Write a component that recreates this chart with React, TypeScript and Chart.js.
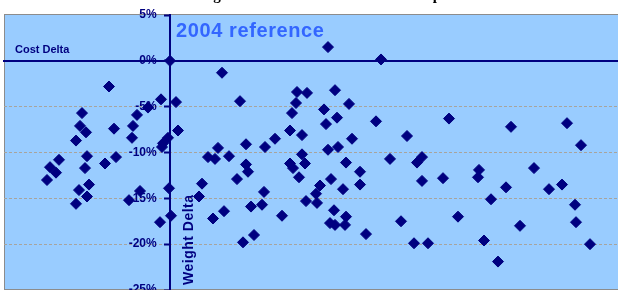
import React, { useEffect, useRef } from "react";
import { Chart, registerables } from "chart.js";
Chart.register(...registerables);

// Weight delta (x, arbitrary % units) and cost delta (y, %) for each design
const weightDelta = [
  0, 5.2, -6.1, -0.9, 0.6, -2.2, -3.3, -8.8, 7.0, -3.7, -9.0, -8.4, -5.6, 0.8,
  -9.4, -3.8, -0.2, -0.7, -0.8, -8.3, -5.4, -6.5, -11.1, -12.0, -11.4, -12.3,
  -8.5, -8.1, -9.1, -8.3, -9.4, -4.1, -3.0, -0.1, 0.1, -1.0, 7.6, 4.8, 3.8, 4.5,
  5.9, 7.6, 7.8, 6.7, 3.2, 2.9, 4.3, 5.4, 7.3, 8.4, 8.1, 9.2, 9.4, 9.5, 10.5,
  11.2, 12.0, 12.2, 13.2, 12.6, 12.7, 13.7, 12.0, 12.3, 12.9, 13.2, 13.5, 13.6,
  15.8, 21.1, 16.5, 15.4, 17.9, 16.7, 15.6, 20.6, 27.9, 34.1, 39.7, 41.1, 23.7,
  18.2, 15.8, 16.8, 17.6, 22.0, 25.2, 24.7, 19.0, 16.1, 19.0, 17.3, 15.0, 14.6,
  25.2, 27.3, 30.9, 30.8, 33.6, 36.4, 37.9, 39.2, 32.1, 14.7, 16.4, 17.6, 16.0,
  16.5, 17.5, 19.6, 23.1, 28.8, 35.0, 40.5, 40.6, 24.4, 25.8, 31.4, 32.8, 42.0,
];
const costDelta = [
  0, -1.3, -2.8, -4.2, -4.5, -5.1, -5.9, -5.7, -4.4, -7.1, -7.1, -7.8, -7.4, -7.6,
  -8.7, -8.4, -8.4, -9.0, -9.4, -10.4, -10.5, -11.2, -10.8, -11.6, -12.2, -13.0,
  -11.7, -13.5, -14.1, -14.8, -15.6, -15.2, -14.2, -13.9, -16.9, -17.6, -9.1,
  -9.5, -10.5, -10.7, -10.4, -11.3, -12.1, -12.9, -13.4, -14.8, -17.2, -16.4,
  -19.8, -19.0, -15.9, -15.7, -14.3, -9.4, -8.5, -16.9, -7.6, -5.7, -8.1, -4.6,
  -3.4, -3.5, -11.2, -11.7, -12.7, -10.2, -11.2, -15.3,
  1.5, 0.15, -3.2, -5.3, -4.7, -6.2, -6.9, -6.6, -6.3, -7.2, -6.8, -9.2, -8.2,
  -8.5, -9.7, -9.4, -11.1, -10.7, -10.5, -11.1, -12.1, -12.9, -13.5, -14.0,
  -13.6, -14.5, -13.1, -12.8, -11.9, -12.7, -13.8, -11.7, -14.0, -13.5, -15.1,
  -15.5, -16.3, -17.0, -17.7, -17.9, -17.9, -18.9, -17.5, -17.0, -18.0, -15.7,
  -17.6, -19.9, -19.9, -19.6, -21.9, -20.0,
];
const yTickValues = [5, 0, -5, -10, -15, -20, -25];
const titleText = "Weight and Cost Deltas vs. 2004 Group";
const costAxisLabel = "Cost Delta";
const weightAxisLabel = "Weight Delta";
const referenceLabel = "2004 reference";

const NAVY = "#000080";
const SANS = 'Arial, "Liberation Sans", sans-serif';
const SERIF = '"Liberation Serif", "Times New Roman", serif';

const decorPlugin = {
  id: "decor",
  beforeDraw(chart: any) {
    const { ctx, chartArea: a } = chart;
    ctx.save();
    ctx.fillStyle = "#ffffff";
    ctx.fillRect(0, 0, chart.width, chart.height);
    ctx.fillStyle = "#99CCFF";
    ctx.fillRect(a.left, a.top, a.right - a.left, a.bottom - a.top);
    ctx.strokeStyle = "#8C8C8C";
    ctx.lineWidth = 1;
    ctx.strokeRect(a.left + 0.5, a.top - 0.5, a.right - a.left + 5, a.bottom - a.top);
    // chart title, mostly cut off above the picture: only descenders show
    const gIdx = titleText.indexOf("g");
    const pIdx = titleText.lastIndexOf("p");
    ctx.font = `bold 18px ${SERIF}`;
    const gx0 = ctx.measureText(titleText.slice(0, gIdx)).width + ctx.measureText("g").width / 2;
    const px0 = ctx.measureText(titleText.slice(0, pIdx)).width + ctx.measureText("p").width / 2;
    const size = (18 * (437 - 217)) / (px0 - gx0);
    ctx.font = `bold ${size.toFixed(2)}px ${SERIF}`;
    const gx = ctx.measureText(titleText.slice(0, gIdx)).width + ctx.measureText("g").width / 2;
    ctx.fillStyle = "#000000";
    ctx.textAlign = "left";
    ctx.textBaseline = "alphabetic";
    ctx.fillText(titleText, 217 - gx, 0);
    ctx.restore();
  },
  beforeDatasetsDraw(chart: any) {
    const { ctx } = chart;
    const xs = chart.scales.x;
    const ys = chart.scales.y;
    const x0 = xs.getPixelForValue(0);
    const y0 = ys.getPixelForValue(0);
    ctx.save();
    ctx.fillStyle = NAVY;
    ctx.font = `bold 11px ${SANS}`;
    ctx.textAlign = "left";
    ctx.textBaseline = "middle";
    ctx.fillText(costAxisLabel, chart.chartArea.left + 11, y0 - 11);
    ctx.fillStyle = "#3366FF";
    ctx.font = `bold 20px ${SANS}`;
    (ctx as any).letterSpacing = "0.6px";
    ctx.textBaseline = "alphabetic";
    ctx.fillText(referenceLabel, x0 + 6, ys.getPixelForValue(2.6));
    (ctx as any).letterSpacing = "0.5px";
    ctx.translate(x0 + 19, chart.chartArea.bottom - 5);
    ctx.rotate(-Math.PI / 2);
    ctx.fillStyle = NAVY;
    ctx.font = `bold 14px ${SANS}`;
    ctx.textBaseline = "middle";
    ctx.textAlign = "left";
    ctx.fillText(weightAxisLabel, 0, 0);
    ctx.restore();
  },
};

const noSpace = (s: any) => {
  if (s.isHorizontal()) s.height = 0;
  else s.width = 0;
  s.paddingTop = 0;
  s.paddingBottom = 0;
  s.paddingLeft = 0;
  s.paddingRight = 0;
};

function ScatterChart() {
  const ref = useRef<HTMLCanvasElement>(null);
  useEffect(() => {
    if (!ref.current) return;
    const points = weightDelta.map((x, i) => ({ x, y: costDelta[i] }));
    const chart = new Chart(ref.current, {
      type: "scatter",
      data: {
        datasets: [
          {
            data: points,
            pointStyle: "rectRot",
            pointRadius: 5.5,
            backgroundColor: NAVY,
            borderColor: NAVY,
            borderWidth: 1,
            clip: false,
          },
        ],
      },
      options: {
        responsive: false,
        animation: false,
        layout: { autoPadding: false, padding: { top: 15, left: 4, right: 0, bottom: 0 } },
        plugins: {
          legend: { display: false },
          tooltip: { enabled: false },
          title: { display: false },
        },
        scales: {
          x: {
            type: "linear",
            min: -16.6,
            max: 44.8,
            position: { y: 0 } as any,
            afterFit: noSpace,
            ticks: { display: false },
            grid: { display: false },
            border: { display: true, color: NAVY, width: 2 },
          },
          y: {
            type: "linear",
            min: -25,
            max: 5,
            position: { x: 0 } as any,
            afterFit: noSpace,
            afterBuildTicks: (s: any) => {
              s.ticks = yTickValues.map((v) => ({ value: v }));
            },
            ticks: {
              color: NAVY,
              font: { family: SANS, size: 12, weight: "bold" },
              callback: (v: any) => `${v}%    `,
              padding: 6,
              autoSkip: false,
            },
            grid: {
              color: (c: any) => {
                const v = c.tick ? c.tick.value : null;
                if (v === 0 || v === 5 || v === -25) return "rgba(0,0,0,0)";
                return "#A8A49C";
              },
              lineWidth: 1,
              tickLength: 5,
              tickColor: NAVY,
              tickWidth: 2,
            },
            border: { display: true, color: NAVY, width: 2, dash: [3, 2] },
          },
        },
      },
      plugins: [decorPlugin],
    });
    return () => chart.destroy();
  }, []);
  return <canvas ref={ref} width={618} height={290} style={{ display: "block" }} />;
}

export default function App() {
  return (
    <div style={{ position: "fixed", left: 0, top: 0, width: 618, height: 290 }}>
      <ScatterChart />
    </div>
  );
}
